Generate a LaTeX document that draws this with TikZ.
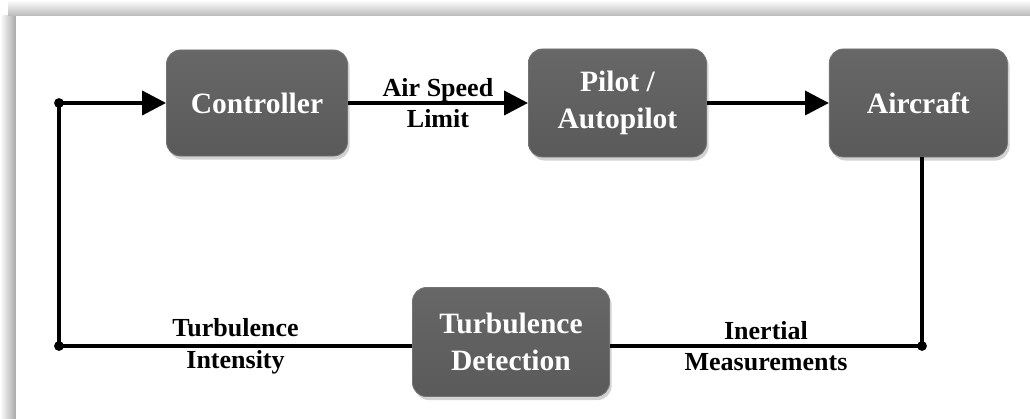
\documentclass[tikz,border=0pt]{standalone}
\usepackage{fontspec}
\setmainfont{Liberation Serif}
\usepackage{tikz}
\usetikzlibrary{arrows.meta, positioning, shadows}
\definecolor{BoxGray}{HTML}{5A5A5A}
\definecolor{BoxTop}{HTML}{676767}
\definecolor{FrameGray}{HTML}{A8A8A8}

\tikzset{
  blockbox/.style={draw=BoxGray!85!white, line width=0.6pt, top color=BoxTop,
    bottom color=BoxGray, rounded corners=10pt, text=white, align=center,
    font=\fontsize{21}{26}\selectfont\bfseries, inner sep=0pt,
    drop shadow={shadow xshift=1.5pt, shadow yshift=-2.5pt, opacity=0.35}},
  sig/.style={line width=2.8pt, black},
  lbl/.style={align=center, font=\fontsize{18.5}{22.5}\selectfont\bfseries},
  junction/.style={circle, fill=black, inner sep=0pt, minimum size=7pt}
}

\begin{document}
\begin{tikzpicture}[x=0.025cm, y=0.025cm, >={Triangle[length=17pt, width=17pt]}]
  \useasboundingbox (0,0) rectangle (1030,419);
  % frame shadow
  \shade[left color=white, right color=FrameGray] (0,0) rectangle (16,403);
  \shade[top color=white, bottom color=FrameGray!80] (8,403) rectangle (1030,419);
  \fill[white] (16,0) rectangle (1030,403);

  \node[blockbox, minimum width=4.525cm, minimum height=2.65cm] (ctrl) at (257,316) {Controller};
  \node[blockbox, minimum width=4.45cm, minimum height=2.7cm, right=4.5cm of ctrl] (pilot) {Pilot /\\Autopilot};
  \node[blockbox, minimum width=4.45cm, minimum height=2.7cm, right=3.05cm of pilot] (air) {Aircraft};
  \node[blockbox, minimum width=4.925cm, minimum height=2.725cm] (det) at (511,77) {Turbulence\\Detection};

  \node[junction] (tdot) at (59,316) {};
  \node[junction] (ldot) at (59,73) {};
  \node[junction] (rdot) at (922,73) {};

  \draw[sig, ->] (ctrl) -- node[lbl] {Air Speed\\Limit} (pilot);
  \draw[sig, ->] (pilot) -- (air);
  \draw[sig] (air.south -| rdot) -- (rdot.center);
  \draw[sig] (rdot.center) -- node[lbl] {Inertial\\Measurements} (det.east |- rdot);
  \draw[sig] (det.west |- ldot) -- node[lbl] {Turbulence\\Intensity} (ldot.center);
  \draw[sig, ->] (ldot.center) -- (tdot.center) -- (ctrl);
\end{tikzpicture}
\end{document}
